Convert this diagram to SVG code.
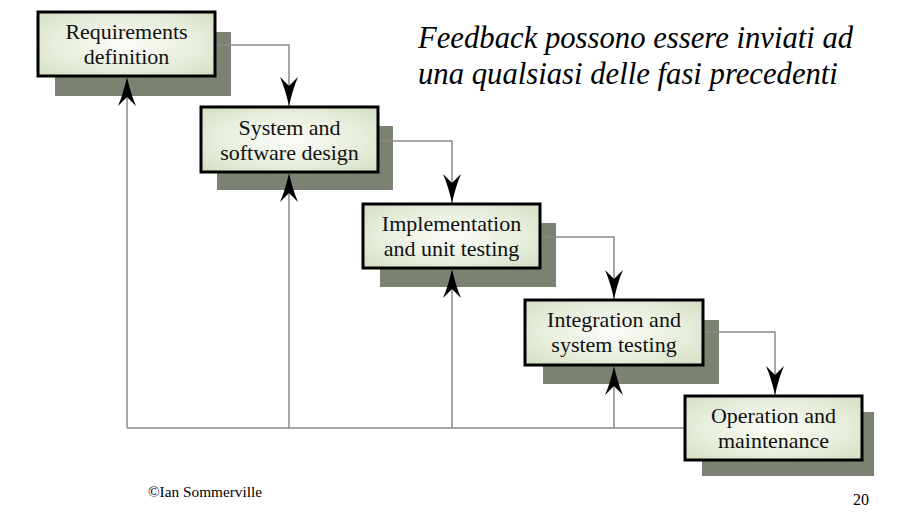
<svg xmlns="http://www.w3.org/2000/svg" width="912" height="525" viewBox="0 0 912 525">
  <defs>
    <radialGradient id="boxFill" cx="0.5" cy="0.5" r="0.7">
      <stop offset="0" stop-color="#fbfcf8"/>
      <stop offset="0.6" stop-color="#e6eddb"/>
      <stop offset="1" stop-color="#d2dec2"/>
    </radialGradient>
    <marker id="dart" viewBox="-30 -10 32 20" refX="0" refY="0" markerWidth="32" markerHeight="20" markerUnits="userSpaceOnUse" orient="auto">
      <path d="M0,0 C-9,-2 -20,-5 -29,-9 C-25,-5 -22,-2 -20,0 C-22,2 -25,5 -29,9 C-20,5 -9,2 0,0 Z" fill="#000"/>
    </marker>
    <style>
      .shadow { fill: #7b8272; }
      .box { fill: url(#boxFill); stroke: #000; stroke-width: 3; }
      .label { font-family: "Liberation Serif", "Times New Roman", serif; font-size: 22px; fill: #111; text-anchor: middle; }
      .link { fill: none; stroke: #8a8a8a; stroke-width: 1.5; }
      .arrow { fill: none; stroke: #8a8a8a; stroke-width: 1.5; marker-end: url(#dart); }
      .note { font-family: "Liberation Serif", "Times New Roman", serif; font-style: italic; font-size: 30.7px; fill: #000; }
      .small { font-family: "Liberation Serif", "Times New Roman", serif; fill: #000; }
    </style>
  </defs>

  <rect width="912" height="525" fill="#fff"/>

  <!-- shadows sit beneath everything -->
  <g id="shadows">
    <rect class="shadow" x="55" y="32" width="176" height="64"/>
    <rect class="shadow" x="217" y="126" width="176" height="64"/>
    <rect class="shadow" x="380" y="223" width="176" height="64"/>
    <rect class="shadow" x="543" y="320" width="176" height="64"/>
    <rect class="shadow" x="702" y="412" width="172" height="64"/>
  </g>

  <!-- connectors: forward flow and feedback paths -->
  <g id="connectors">
    <path class="arrow" d="M215,45 H289 V106"/>
    <path class="arrow" d="M378,141 H452 V203"/>
    <path class="arrow" d="M540,237 H614 V299"/>
    <path class="arrow" d="M703,332 H775 V395"/>
    <path class="link" d="M685,428 H127"/>
    <path class="arrow" d="M127,428 V77"/>
    <path class="arrow" d="M289,428 V173"/>
    <path class="arrow" d="M452,428 V269"/>
    <path class="arrow" d="M614,428 V366"/>
  </g>

  <g id="requirements">
    <rect class="box" x="38" y="12" width="177" height="64"/>
    <text class="label" x="126.5" y="39">Requirements</text>
    <text class="label" x="126.5" y="64">definition</text>
  </g>

  <g id="design">
    <rect class="box" x="201" y="107" width="177" height="65"/>
    <text class="label" x="289.5" y="135">System and</text>
    <text class="label" x="289.5" y="160">software design</text>
  </g>

  <g id="implementation">
    <rect class="box" x="363" y="204" width="177" height="64"/>
    <text class="label" x="451.5" y="231">Implementation</text>
    <text class="label" x="451.5" y="256">and unit testing</text>
  </g>

  <g id="integration">
    <rect class="box" x="525" y="300" width="178" height="65"/>
    <text class="label" x="614" y="327">Integration and</text>
    <text class="label" x="614" y="352">system testing</text>
  </g>

  <g id="operation">
    <rect class="box" x="685" y="396" width="177" height="64"/>
    <text class="label" x="773.5" y="423">Operation and</text>
    <text class="label" x="773.5" y="448">maintenance</text>
  </g>

  <g id="note">
    <text class="note" x="418" y="48">Feedback possono essere inviati ad</text>
    <text class="note" x="418" y="84">una qualsiasi delle fasi precedenti</text>
  </g>

  <text class="small" x="148" y="497" font-size="15.3">©Ian Sommerville</text>
  <text class="small" x="853" y="505" font-size="16">20</text>
</svg>
